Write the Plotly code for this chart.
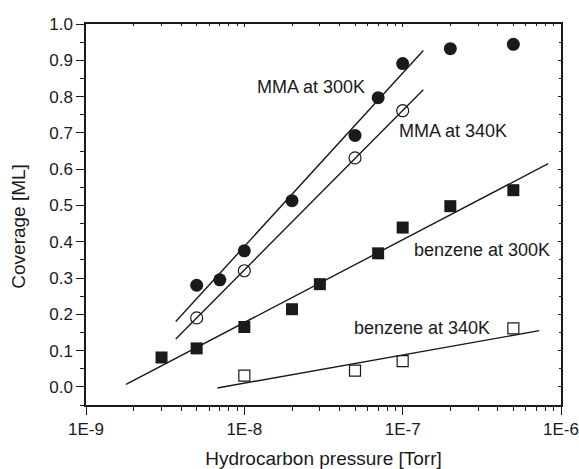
import plotly.graph_objects as go

# Data
mma300_p = [5e-9, 7e-9, 1e-8, 2e-8, 5e-8, 7e-8, 1e-7, 2e-7, 5e-7]
mma300_c = [0.28, 0.295, 0.375, 0.513, 0.693, 0.797, 0.891, 0.932, 0.944]

mma340_p = [5e-9, 1e-8, 5e-8, 1e-7]
mma340_c = [0.19, 0.32, 0.631, 0.761]

benz300_p = [3e-9, 5e-9, 1e-8, 2e-8, 3e-8, 7e-8, 1e-7, 2e-7, 5e-7]
benz300_c = [0.081, 0.106, 0.165, 0.214, 0.283, 0.368, 0.439, 0.498, 0.542]

benz340_p = [1e-8, 5e-8, 1e-7, 5e-7]
benz340_c = [0.031, 0.045, 0.071, 0.161]

# Fit line end points
fit_mma300_p = [3.69e-9, 1.35e-7]
fit_mma300_c = [0.180, 0.927]
fit_mma340_p = [3.69e-9, 1.35e-7]
fit_mma340_c = [0.132, 0.819]
fit_benz300_p = [1.79e-9, 8.3e-7]
fit_benz300_c = [0.007, 0.615]
fit_benz340_p = [6.76e-9, 7.3e-7]
fit_benz340_c = [-0.003, 0.155]

labels = ["MMA at 300K", "MMA at 340K", "benzene at 300K", "benzene at 340K"]
label_x = [-7.935, -7.035, -6.94, -7.318]
label_y = [0.827, 0.706, 0.377, 0.162]

x_tickvals = [1e-9, 1e-8, 1e-7, 1e-6]
x_ticktext = ["1E-9", "1E-8", "1E-7", "1E-6"]
y_tickvals = [0.0, 0.1, 0.2, 0.3, 0.4, 0.5, 0.6, 0.7, 0.8, 0.9, 1.0]

FONT = "Liberation Sans, Arial, sans-serif"
INK = "#1a1a1a"

fig = go.Figure()

for px_, cy in [(fit_mma300_p, fit_mma300_c), (fit_mma340_p, fit_mma340_c),
                (fit_benz300_p, fit_benz300_c), (fit_benz340_p, fit_benz340_c)]:
    fig.add_trace(go.Scatter(x=px_, y=cy, mode="lines",
                             line=dict(color=INK, width=1.4), showlegend=False,
                             hoverinfo="skip"))

fig.add_trace(go.Scatter(x=mma300_p, y=mma300_c, mode="markers",
                         marker=dict(symbol="circle", size=13, color=INK,
                                     line=dict(width=0)), showlegend=False))
fig.add_trace(go.Scatter(x=mma340_p, y=mma340_c, mode="markers",
                         marker=dict(symbol="circle-open", size=12, color=INK,
                                     line=dict(width=1.2)), showlegend=False))
fig.add_trace(go.Scatter(x=benz300_p, y=benz300_c, mode="markers",
                         marker=dict(symbol="square", size=12, color=INK,
                                     line=dict(width=0)), showlegend=False))
fig.add_trace(go.Scatter(x=benz340_p, y=benz340_c, mode="markers",
                         marker=dict(symbol="square-open", size=11, color=INK,
                                     line=dict(width=1.2)), showlegend=False))

for t, lx, ly in zip(labels, label_x, label_y):
    fig.add_annotation(x=lx, y=ly, xref="x", yref="y", text=t, showarrow=False,
                       xanchor="left", yanchor="middle",
                       font=dict(family=FONT, size=18, color=INK))

# y-axis title placed as annotation for precise position
fig.add_annotation(x=-0.141, y=0.468, xref="paper", yref="paper",
                   text="Coverage [ML]", textangle=-90, showarrow=False,
                   xanchor="center", yanchor="middle",
                   font=dict(family=FONT, size=19, color=INK))

fig.update_layout(
    width=579, height=469,
    margin=dict(l=86, r=18, t=24, b=64),
    plot_bgcolor="white", paper_bgcolor="white",
    font=dict(family=FONT, size=17, color=INK),
    xaxis=dict(type="log", range=[-9, -6], tickvals=x_tickvals, ticktext=x_ticktext,
               automargin=False,
               ticks="outside", ticklen=8, tickwidth=1.3, tickcolor=INK,
               minor=dict(ticks="outside", ticklen=4, tickwidth=1.1, tickcolor=INK,
                          dtick="D1"),
               showline=True, linecolor=INK, linewidth=1.5, showgrid=False,
               zeroline=False,
               title=dict(text="Hydrocarbon pressure [Torr]", standoff=14,
                          font=dict(size=19))),
    yaxis=dict(range=[-0.05, 1.0], tickvals=y_tickvals, tickformat=".1f",
               automargin=False,
               ticks="outside", ticklen=8, tickwidth=1.3, tickcolor=INK,
               minor=dict(ticks="outside", ticklen=4, tickwidth=1.1, tickcolor=INK,
                          dtick=0.05, tick0=0.05),
               showline=True, linecolor=INK, linewidth=1.5, showgrid=False,
               zeroline=False),
    xaxis2=dict(type="log", range=[-9, -6], overlaying="x", side="top",
                automargin=False,
                tickvals=x_tickvals, showticklabels=False, ticks="inside",
                ticklen=3, tickwidth=1, tickcolor=INK,
                minor=dict(ticks="inside", ticklen=2, tickcolor=INK, dtick="D1"),
                showline=True, linecolor=INK, linewidth=1.5, showgrid=False,
                zeroline=False),
    yaxis2=dict(range=[-0.05, 1.0], overlaying="y", side="right",
                automargin=False,
                tickvals=y_tickvals, showticklabels=False, ticks="inside",
                ticklen=3, tickwidth=1, tickcolor=INK,
                minor=dict(ticks="inside", ticklen=2, tickcolor=INK, dtick=0.05,
                           tick0=0.05),
                showline=True, linecolor=INK, linewidth=1.5, showgrid=False,
                zeroline=False),
)

# dummy invisible trace to activate secondary axes
fig.add_trace(go.Scatter(x=[1e-9], y=[0], xaxis="x2", yaxis="y2", mode="markers",
                         marker=dict(opacity=0), showlegend=False, hoverinfo="skip"))

fig.write_html("out.html")
